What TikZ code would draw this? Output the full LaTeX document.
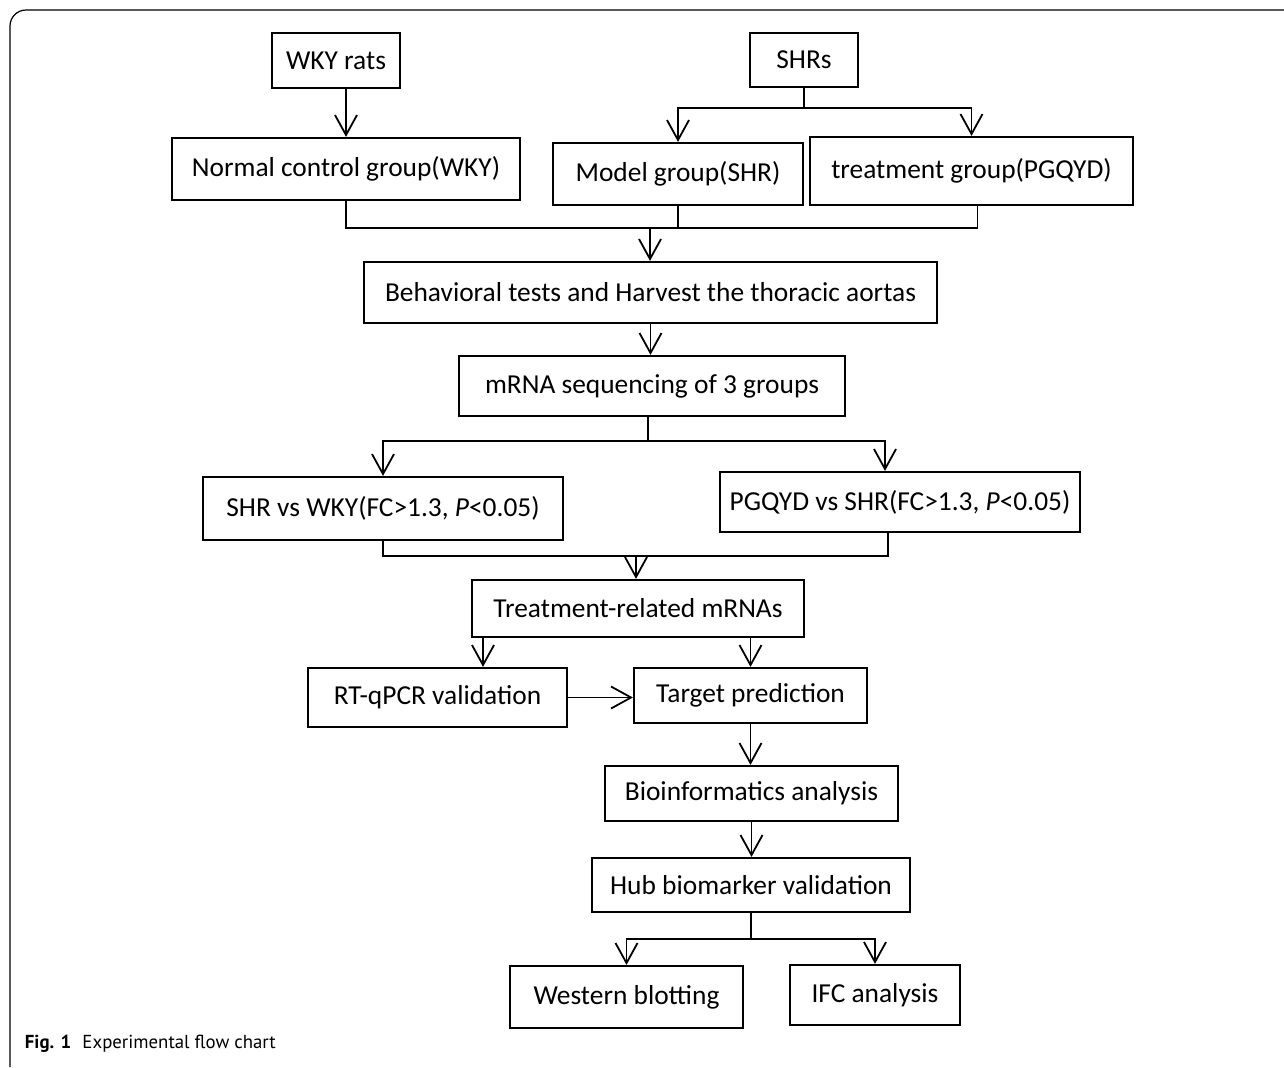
\documentclass[tikz,border=0pt]{standalone}
\usepackage{fontspec}
\setmainfont{Carlito}
\newfontfamily\capfont{PT Sans}
\usetikzlibrary{arrows.meta}

\begin{document}
\begin{tikzpicture}[x=0.5pt, y=-0.5pt, line width=0.9pt,
		arr/.style={-{Straight Barb[length=10pt,width=11pt]}},
		stage/.style={shape=rectangle, draw, line width=1.1pt, inner sep=0pt, align=center,
	font=\fontsize{13.7}{16}\selectfont}]
			\useasboundingbox (0,0) rectangle (1284,1067);
			% frame of the figure
			\draw[line width=0.6pt, rounded corners=8pt] (10,1067) -- (10,10) -- (1284,10);
			% animals and groups
			\node[stage, minimum width=64pt, minimum height=27.5pt] (wky) at (336,60.5) {WKY rats};
			\node[stage, minimum width=54pt, minimum height=27pt] (shr) at (804,60) {SHRs};
			\node[stage, minimum width=174pt, minimum height=31pt] (ctrl) at (346,169) {Normal control group(WKY)};
			\node[stage, minimum width=125pt, minimum height=31pt] (model) at (678,174) {Model group(SHR)};
			\node[stage, minimum width=161.5pt, minimum height=34pt] (treat) at (971.5,171) {treatment group(PGQYD)};
			% tests and sequencing
			\node[stage, minimum width=286.5pt, minimum height=30.5pt] (behav) at (650.5,292.5) {Behavioral tests and Harvest the thoracic aortas};
			\node[stage, minimum width=193pt, minimum height=30pt] (seq) at (652,386) {mRNA sequencing of 3 groups};
			\node[stage, minimum width=180pt, minimum height=31.5pt] (shrwky) at (383,508.5) {SHR vs WKY(FC>1.3, \textit{P}<0.05)};
			\node[stage, minimum width=180pt, minimum height=30pt] (pgqyd) at (900,502) {PGQYD vs SHR(FC>1.3, \textit{P}<0.05)};
			\node[stage, minimum width=166pt, minimum height=28.5pt] (related) at (638,608.5) {Treatment-related mRNAs};
			% validation and analysis
			\node[stage, minimum width=129.5pt, minimum height=29.5pt] (rtqpcr) at (437.5,697.5) {RT-qPCR validation};
			\node[stage, minimum width=116.5pt, minimum height=27.5pt] (target) at (750.5,695.5) {Target prediction};
			\node[stage, minimum width=146.5pt, minimum height=27.5pt] (bioinf) at (751.5,793.5) {Bioinformatics analysis};
			\node[stage, minimum width=159pt, minimum height=27pt] (hub) at (751,885) {Hub biomarker validation};
			\node[stage, minimum width=116.5pt, minimum height=31pt] (wb) at (626.5,997) {Western blotting};
			\node[stage, minimum width=85pt, minimum height=30pt] (ifc) at (875,995) {IFC analysis};
			% caption
			\node[anchor=base west, inner sep=0pt, font=\capfont\fontsize{9.4}{11}\selectfont] (cap) at (24,1048)
			{\textbf{Fig. 1}\hspace{0.6em}Experimental flow chart};
			% connectors
			\draw[arr] (wky.south -| ctrl.north) -- (ctrl.north);
			\draw[arr] (shr.south) -- ++(0,20) -| (model.north);
			\draw[arr] (shr.south) -- ++(0,20) -| (treat.north);
			\coordinate (m1) at (650,228);
			\draw (ctrl.south) |- (m1) -| ([xshift=3pt]treat.south);
			\draw (model.south) -- (model.south |- m1);
			\draw[arr] (m1) -- (behav.north -| m1);
			\draw[arr] (behav.south) -- (seq.north -| behav.south);
			\draw[arr] ([xshift=-2pt]seq.south) -- ++(0,24) -| (shrwky.north);
			\draw[arr] ([xshift=-2pt]seq.south) -- ++(0,24) -| ([xshift=-7.5pt]pgqyd.north);
			\coordinate (m2) at (636,556);
			\draw (shrwky.south) |- (m2) -| ([xshift=-6pt]pgqyd.south);
			\draw[arr] (m2) -- (m2 |- related.north);
			\draw[arr] ([xshift=-77.5pt]related.south) -- ([xshift=-77.5pt]related.south |- rtqpcr.north);
			\draw[arr] (related.south -| target.north) -- (target.north);
			\draw[arr] (rtqpcr.east) -- (rtqpcr.east -| target.west);
			\draw[arr] (target.south) -- (bioinf.north -| target.south);
			\draw[arr] (bioinf.south) -- (hub.north -| bioinf.south);
			\draw[arr] (hub.south) -- ++(0,26) -| (wb.north);
			\draw[arr] (hub.south) -- ++(0,26) -| (ifc.north);
		\end{tikzpicture}
\end{document}
